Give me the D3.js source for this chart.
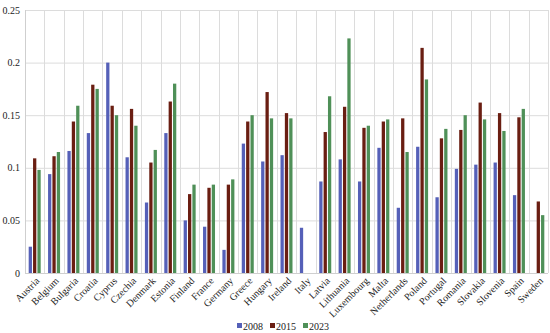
<!DOCTYPE html>
<html>
<head>
<meta charset="utf-8">
<script src="https://cdn.jsdelivr.net/npm/d3@7/dist/d3.min.js"></script>
<style>
  body { margin: 0; background: #fff; }
  text { font-family: "Liberation Serif", "Times New Roman", serif; fill: #222; }
</style>
</head>
<body>
<div id="chart"></div>
<script>
const countries = ['Austria', 'Belgium', 'Bulgaria', 'Croatia', 'Cyprus', 'Czechia', 'Denmark', 'Estonia',
  'Finland', 'France', 'Germany', 'Greece', 'Hungary', 'Ireland', 'Italy', 'Latvia', 'Lithuania',
  'Luxembourg', 'Malta', 'Netherlands', 'Poland', 'Portugal', 'Romania', 'Slovakia', 'Slovenia', 'Spain', 'Sweden'];
const years = ['2008', '2015', '2023'];
const v2008 = [0.025, 0.094, 0.116, 0.133, 0.200, 0.110, 0.067, 0.133, 0.050, 0.044, 0.022, 0.123, 0.106, 0.112,
  0.043, 0.087, 0.108, 0.087, 0.119, 0.062, 0.120, 0.072, 0.099, 0.103, 0.105, 0.074, null];
const v2015 = [0.109, 0.111, 0.144, 0.179, 0.159, 0.156, 0.105, 0.163, 0.075, 0.081, 0.084, 0.144, 0.172, 0.152,
  null, 0.134, 0.158, 0.138, 0.144, 0.147, 0.214, 0.128, 0.136, 0.162, 0.152, 0.148, 0.068];
const v2023 = [0.098, 0.115, 0.159, 0.175, 0.150, 0.140, 0.117, 0.180, 0.084, 0.084, 0.089, 0.150, 0.147, 0.147,
  null, 0.168, 0.223, 0.140, 0.146, 0.115, 0.184, 0.137, 0.150, 0.146, 0.135, 0.156, 0.055];
const yTicks = [0, 0.05, 0.1, 0.15, 0.2, 0.25];
const colors = ['#5560b8', '#6a1e12', '#4f9058'];

const W = 550, H = 333;
const margin = { top: 10, right: 2, bottom: 60, left: 25 };
const width = W - margin.left - margin.right;
const height = H - margin.top - margin.bottom;

const svg = d3.select('#chart').append('svg')
  .attr('width', W).attr('height', H)
  .append('g')
  .attr('transform', 'translate(' + margin.left + ',' + margin.top + ')');

const x = d3.scaleBand().domain(countries).range([0, width]).padding(0);
const x1 = d3.scaleBand().domain(years).range([0, 12]).paddingInner(0.25);
const y = d3.scaleLinear().domain([0, 0.25]).range([height, 0]);

// horizontal grid
svg.selectAll('.hgrid').data(yTicks).enter().append('line')
  .attr('x1', 0).attr('x2', width)
  .attr('y1', d => y(d) + 0.5).attr('y2', d => y(d) + 0.5)
  .attr('stroke', '#dcdcdc');

// vertical grid at category borders
svg.selectAll('.vgrid').data(countries).enter().append('line')
  .attr('x1', d => Math.round(x(d) + x.bandwidth()) + 0.5)
  .attr('x2', d => Math.round(x(d) + x.bandwidth()) + 0.5)
  .attr('y1', 0).attr('y2', height)
  .attr('stroke', '#dcdcdc');

svg.append('line').attr('x1', 0.5).attr('x2', 0.5).attr('y1', 0).attr('y2', height).attr('stroke', '#cfcfcf');

// bars
const series = [v2008, v2015, v2023];
series.forEach((vals, i) => {
  svg.selectAll('.bar' + i)
    .data(countries.map((c, j) => ({ c: c, v: vals[j] })).filter(d => d.v !== null))
    .enter().append('rect')
    .attr('x', d => x(d.c) + (x.bandwidth() - 12) / 2 + x1(years[i]))
    .attr('y', d => y(d.v))
    .attr('width', x1.bandwidth())
    .attr('height', d => height - y(d.v))
    .attr('fill', colors[i]);
});

// y axis labels
svg.selectAll('.ylab').data(yTicks).enter().append('text')
  .attr('x', -5).attr('y', d => y(d)).attr('dy', '0.35em')
  .attr('text-anchor', 'end')
  .style('font-size', '10px')
  .text(d => d3.format('')(d));

// x axis line
svg.append('line').attr('x1', 0).attr('x2', width)
  .attr('y1', height + 0.5).attr('y2', height + 0.5).attr('stroke', '#cfcfcf');

// x labels
svg.selectAll('.xlab').data(countries).enter().append('text')
  .attr('transform', d => 'translate(' + (x(d) + x.bandwidth() / 2 + 3) + ',' + (height + 6) + ') rotate(-45)')
  .attr('text-anchor', 'end')
  .attr('dy', '0.35em')
  .style('font-size', '10px')
  .text(d => d);

// legend
const legend = svg.append('g').attr('transform', 'translate(' + (237 - margin.left) + ',' + (326 - margin.top) + ')');
years.forEach((yr, i) => {
  const g = legend.append('g').attr('transform', 'translate(' + (i * 33) + ',0)');
  g.append('rect').attr('x', 0).attr('y', -3).attr('width', 5).attr('height', 5).attr('fill', colors[i]);
  g.append('text').attr('x', 6).attr('y', 0).attr('dy', '0.35em').style('font-size', '10px').text(yr);
});
</script>
</body>
</html>
